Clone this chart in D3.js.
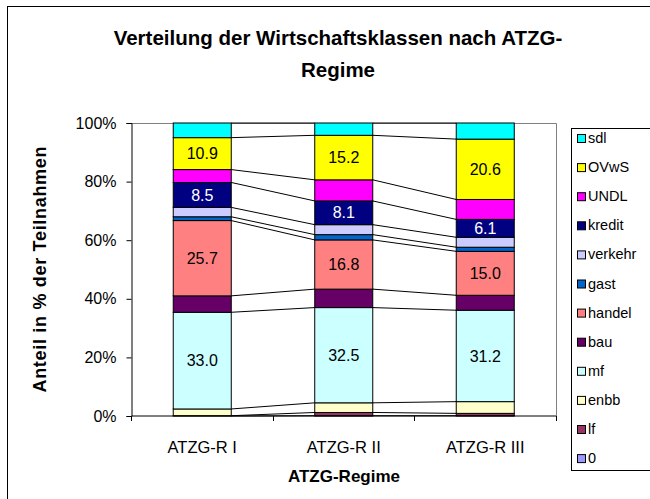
<!DOCTYPE html>
<html>
<head>
<meta charset="utf-8">
<script src="https://cdn.jsdelivr.net/npm/d3@7"></script>
<style>
  body { margin: 0; background: #fff; }
  svg { display: block; font-family: "Liberation Sans", Arial, sans-serif; }
</style>
</head>
<body>
<div id="chart"></div>
<script>
// categories (x axis)
var categories = ['ATZG-R I', 'ATZG-R II', 'ATZG-R III'];

// series, bottom to top of the stack
var seriesNames = ['0', 'lf', 'enbb', 'mf', 'bau', 'handel', 'gast', 'verkehr', 'kredit', 'UNDL', 'OVwS', 'sdl'];
var s_0       = [0.0, 0.1, 0.1];
var s_lf      = [0.1, 1.1, 0.8];
var s_enbb    = [2.3, 3.3, 4.0];
var s_mf      = [33.0, 32.5, 31.2];
var s_bau     = [5.6, 6.3, 5.1];
var s_handel  = [25.7, 16.8, 15.0];
var s_gast    = [1.3, 1.8, 1.4];
var s_verkehr = [3.2, 3.4, 3.4];
var s_kredit  = [8.5, 8.1, 6.1];
var s_UNDL    = [4.4, 7.2, 6.8];
var s_OVwS    = [10.9, 15.2, 20.6];
var s_sdl     = [5.0, 4.2, 5.5];

var seriesColors = ['#9999ff', '#993366', '#ffffcc', '#ccffff', '#660066', '#ff8080',
                    '#0066cc', '#ccccff', '#000080', '#ff00ff', '#ffff00', '#00ffff'];
// which series get a value label, and in what colour
var labelled = { mf: '#000', handel: '#000', kredit: '#fff', OVwS: '#000' };

var yTicks = [0, 0.2, 0.4, 0.6, 0.8, 1];

var seriesValues = [s_0, s_lf, s_enbb, s_mf, s_bau, s_handel, s_gast, s_verkehr, s_kredit, s_UNDL, s_OVwS, s_sdl];

// build table rows for d3.stack
var table = categories.map(function(c, i){
	var row = { cat: c };
	seriesNames.forEach(function(n, j){ row[n] = seriesValues[j][i]; });
	return row;
});

var width = 650, height = 499;
var plot = { left: 131.5, right: 556, top: 123, bottom: 416 };
var fs = 16;

var svg = d3.select('#chart')
			.append('svg')
			.attr('width', width)
			.attr('height', height);

// outer chart border
svg.append('rect')
   .attr('x', 7.5).attr('y', 6.5)
   .attr('width', 700).attr('height', 600)
   .attr('fill', 'none').attr('stroke', '#000').attr('stroke-width', 1);

// scales
var x_scale = d3.scaleBand()
				.domain(categories)
				.range([plot.left, plot.right])
				.paddingInner(0.59)
				.paddingOuter(0.295);
var y_scale = d3.scaleLinear()
				.domain([0, 1])
				.range([plot.bottom, plot.top]);

var color = d3.scaleOrdinal().domain(seriesNames).range(seriesColors);

var stack = d3.stack()
			  .keys(seriesNames)
			  .offset(d3.stackOffsetExpand);
var layers = stack(table);

// plot area border (grey top and right)
svg.append('path')
   .attr('d', 'M' + plot.left + ',' + (plot.top + 0.5) + 'H' + (plot.right + 0.5) + 'V' + plot.bottom)
   .attr('fill', 'none').attr('stroke', '#808080').attr('stroke-width', 1);

// series lines between bars
var bw = x_scale.bandwidth();
layers.forEach(function(layer){
	for (var i = 0; i < layer.length - 1; i++) {
		svg.append('line')
		   .attr('x1', x_scale(categories[i]) + bw)
		   .attr('y1', y_scale(layer[i][1]))
		   .attr('x2', x_scale(categories[i + 1]))
		   .attr('y2', y_scale(layer[i + 1][1]))
		   .attr('stroke', '#000')
		   .attr('stroke-width', 1);
	}
});

// bars
var groups = svg.selectAll('g.layer')
				.data(layers)
				.enter()
				.append('g')
				.attr('class', 'layer')
				.attr('fill', function(d){ return color(d.key); });

groups.selectAll('rect')
	  .data(function(d){ return d; })
	  .enter()
	  .append('rect')
	  .attr('x', function(d){ return x_scale(d.data.cat); })
	  .attr('y', function(d){ return y_scale(d[1]); })
	  .attr('width', bw)
	  .attr('height', function(d){ return Math.max(0, y_scale(d[0]) - y_scale(d[1])); })
	  .attr('stroke', '#000')
	  .attr('stroke-width', 1);

// value labels
layers.forEach(function(layer){
	if (!labelled[layer.key]) return;
	layer.forEach(function(d){
		svg.append('text')
		   .attr('x', x_scale(d.data.cat) + bw / 2)
		   .attr('y', (y_scale(d[0]) + y_scale(d[1])) / 2)
		   .attr('dy', '0.35em')
		   .attr('text-anchor', 'middle')
		   .attr('font-size', fs)
		   .attr('fill', labelled[layer.key])
		   .text(d3.format('.1f')(d.data[layer.key]));
	});
});

// y axis
var y_axis = d3.axisLeft(y_scale)
			   .tickValues(yTicks)
			   .tickSize(5)
			   .tickFormat(d3.format('.0%'));
var yg = svg.append('g')
   .attr('transform', 'translate(' + plot.left + ',0)')
   .call(y_axis);
yg.select('.domain').attr('stroke', '#000');
yg.selectAll('text').attr('font-size', fs).attr('font-family', '"Liberation Sans", Arial, sans-serif').attr('x', -15).attr('fill', '#000');

// x axis
var xg = svg.append('g')
   .attr('transform', 'translate(0,' + plot.bottom + ')');
xg.append('line')
  .attr('x1', plot.left).attr('x2', plot.right)
  .attr('stroke', '#000');
var xTickPos = categories.map(function(c){ return x_scale(c) - x_scale.step() * 0.295; });
xTickPos.push(plot.right);
xg.selectAll('line.tick')
  .data(xTickPos)
  .enter()
  .append('line')
  .attr('class', 'tick')
  .attr('x1', function(d){ return Math.round(d) + 0.5; })
  .attr('x2', function(d){ return Math.round(d) + 0.5; })
  .attr('y1', 0).attr('y2', 5)
  .attr('stroke', '#000');
xg.selectAll('text')
  .data(categories)
  .enter()
  .append('text')
  .attr('x', function(d){ return x_scale(d) + bw / 2; })
  .attr('y', 37)
  .attr('text-anchor', 'middle')
  .attr('font-size', 16.5)
  .text(function(d){ return d; });

// titles
svg.append('text')
   .attr('x', 338).attr('y', 45)
   .attr('text-anchor', 'middle')
   .attr('font-size', 20.5).attr('font-weight', 'bold')
   .text('Verteilung der Wirtschaftsklassen nach ATZG-');
svg.append('text')
   .attr('x', 338).attr('y', 77)
   .attr('text-anchor', 'middle')
   .attr('font-size', 20.5).attr('font-weight', 'bold')
   .text('Regime');

svg.append('text')
   .attr('x', 344).attr('y', 482)
   .attr('text-anchor', 'middle')
   .attr('font-size', 17).attr('font-weight', 'bold')
   .text('ATZG-Regime');

svg.append('text')
   .attr('transform', 'translate(46,' + ((plot.top + plot.bottom) / 2) + ') rotate(-90)')
   .attr('text-anchor', 'middle')
   .attr('font-size', 18).attr('font-weight', 'bold')
   .attr('textLength', 246).attr('lengthAdjust', 'spacing')
   .text('Anteil in % der Teilnahmen');

// legend (top series first)
var legend = svg.append('g');
legend.append('rect')
	  .attr('x', 571.5).attr('y', 128.5)
	  .attr('width', 120).attr('height', 342)
	  .attr('fill', '#fff').attr('stroke', '#000');
var legendItems = legend.selectAll('g.item')
						.data(seriesNames.slice().reverse())
						.enter()
						.append('g')
						.attr('class', 'item')
						.attr('transform', function(d, i){ return 'translate(577,' + (138 + i * 29.1) + ')'; });
legendItems.append('rect')
		   .attr('x', 0.5).attr('y', -3.5)
		   .attr('width', 8).attr('height', 8)
		   .attr('fill', function(d){ return color(d); })
		   .attr('stroke', '#000');
legendItems.append('text')
		   .attr('x', 11).attr('y', 0)
		   .attr('dy', '0.35em')
		   .attr('font-size', 14.5)
		   .text(function(d){ return d; });
</script>
</body>
</html>
